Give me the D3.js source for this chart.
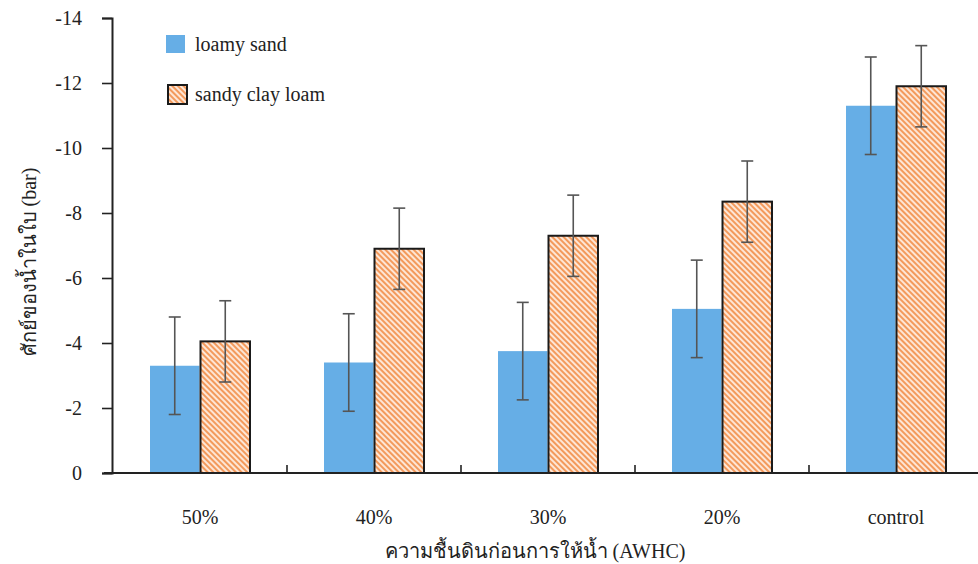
<!DOCTYPE html>
<html>
<head>
<meta charset="utf-8">
<script src="https://cdn.jsdelivr.net/npm/d3@7"></script>
<style>
  html, body { margin: 0; padding: 0; background: #ffffff; }
  svg { display: block; }
</style>
</head>
<body>
<svg id="chart" width="978" height="564"></svg>
<script>
// Leaf water potential (bar) by soil moisture before irrigation (AWHC)
const categories = ["50%", "40%", "30%", "20%", "control"];
const seriesNames = ["loamy sand", "sandy clay loam"];
const loamySand = [-3.3, -3.4, -3.75, -5.05, -11.3];
const loamySandErr = [1.5, 1.5, 1.5, 1.5, 1.5];
const sandyClayLoam = [-4.05, -6.9, -7.3, -8.35, -11.9];
const sandyClayLoamErr = [1.25, 1.25, 1.25, 1.25, 1.25];
const yTicks = [0, -2, -4, -6, -8, -10, -12, -14];

const FONT = "Liberation Serif";
const FS = 20;
const svg = d3.select("#chart");

const x0 = d3.scaleBand().domain(categories).range([113, 983]);
const x1 = d3.scaleBand().domain(seriesNames)
  .range([x0.bandwidth() / 2 - 50, x0.bandwidth() / 2 + 50])
  .paddingInner(0.02);
const y = d3.scaleLinear().domain([0, -14]).range([473, 18]);

// diagonal stripe fill for the second series
const defs = svg.append("defs");
const pat = defs.append("pattern")
  .attr("id", "stripes")
  .attr("patternUnits", "userSpaceOnUse")
  .attr("width", 4).attr("height", 4)
  .attr("patternTransform", "rotate(-45)");
pat.append("rect").attr("width", 4).attr("height", 4).attr("fill", "#fde6d6");
pat.append("rect").attr("width", 2).attr("height", 4).attr("fill", "#f39a5c");

const rows = categories.map((c, i) => ({
  cat: c,
  vals: [
    { s: seriesNames[0], v: loamySand[i], e: loamySandErr[i] },
    { s: seriesNames[1], v: sandyClayLoam[i], e: sandyClayLoamErr[i] }
  ]
}));

const groups = svg.append("g").selectAll("g").data(rows).join("g")
  .attr("transform", d => `translate(${x0(d.cat)},0)`);

groups.selectAll("rect").data(d => d.vals).join("rect")
  .attr("x", d => x1(d.s))
  .attr("y", d => y(d.v))
  .attr("width", x1.bandwidth())
  .attr("height", d => y(0) - y(d.v))
  .attr("fill", d => d.s === seriesNames[0] ? "#66aee6" : "url(#stripes)")
  .attr("stroke", d => d.s === seriesNames[0] ? "none" : "#1a1a1a")
  .attr("stroke-width", 2);

// error bars
const eb = groups.selectAll("g.err").data(d => d.vals).join("g").attr("class", "err")
  .attr("stroke", "#555").attr("stroke-width", 1.6);
eb.append("line")
  .attr("x1", d => x1(d.s) + x1.bandwidth() / 2)
  .attr("x2", d => x1(d.s) + x1.bandwidth() / 2)
  .attr("y1", d => y(d.v - d.e))
  .attr("y2", d => y(d.v + d.e));
[-1, 1].forEach(k => {
  eb.append("line")
    .attr("x1", d => x1(d.s) + x1.bandwidth() / 2 - 6)
    .attr("x2", d => x1(d.s) + x1.bandwidth() / 2 + 6)
    .attr("y1", d => y(d.v + k * d.e))
    .attr("y2", d => y(d.v + k * d.e));
});

// y axis
const yAxis = svg.append("g")
  .attr("transform", "translate(112,0)")
  .call(d3.axisLeft(y).tickValues(yTicks).tickFormat(d => String(d)).tickSize(10).tickPadding(20));
yAxis.attr("font-family", FONT).attr("font-size", FS);
yAxis.select(".domain").attr("stroke", "#222").attr("stroke-width", 2);
yAxis.selectAll(".tick line").attr("stroke", "#222").attr("stroke-width", 1.6);
yAxis.selectAll(".tick text").attr("fill", "#222");

// x axis line with inside ticks between categories
svg.append("line")
  .attr("x1", 104).attr("x2", 978)
  .attr("y1", y(0)).attr("y2", y(0))
  .attr("stroke", "#222").attr("stroke-width", 2);
svg.append("g").selectAll("line").data(categories.slice(1)).join("line")
  .attr("x1", d => x0(d)).attr("x2", d => x0(d))
  .attr("y1", y(0)).attr("y2", y(0) - 8)
  .attr("stroke", "#222").attr("stroke-width", 1.6);

const txt = sel => sel.attr("font-family", FONT).attr("font-size", FS).attr("fill", "#222");

svg.append("g").selectAll("text").data(categories).join("text")
  .attr("x", d => x0(d) + x0.bandwidth() / 2)
  .attr("y", 524)
  .attr("text-anchor", "middle")
  .call(txt)
  .text(d => d);

// axis titles
svg.append("text")
  .attr("x", 535).attr("y", 558)
  .attr("text-anchor", "middle")
  .call(txt)
  .text("ความชื้นดินก่อนการให้น้ำ (AWHC)");
svg.append("text")
  .attr("transform", "translate(36,262) rotate(-90)")
  .attr("text-anchor", "middle")
  .call(txt)
  .text("ศักย์ของน้ำในใบ (bar)");

// legend
const legend = svg.append("g");
legend.append("rect").attr("x", 166).attr("y", 35).attr("width", 19).attr("height", 18)
  .attr("fill", "#66aee6");
legend.append("text").attr("x", 195).attr("y", 51).call(txt).text(seriesNames[0]);
legend.append("rect").attr("x", 168).attr("y", 85).attr("width", 19).attr("height", 19)
  .attr("fill", "url(#stripes)").attr("stroke", "#1a1a1a").attr("stroke-width", 2);
legend.append("text").attr("x", 195).attr("y", 101).call(txt).text(seriesNames[1]);
</script>
</body>
</html>
